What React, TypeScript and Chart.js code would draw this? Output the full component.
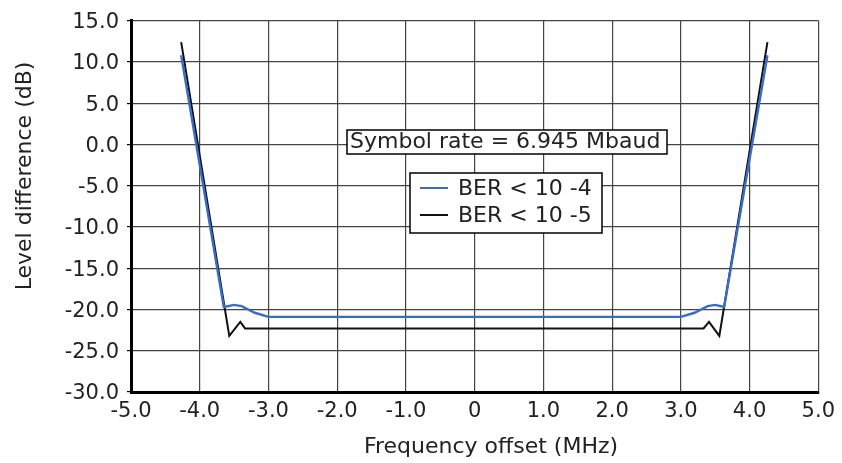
import React, { useEffect, useRef } from "react";
import { Chart, registerables } from "chart.js";

Chart.register(...registerables);

// Series data (frequency offset in MHz, level difference in dB)
const blueX = [-4.27, -3.65, -3.5, -3.39, -3.2, -3.0, 3.0, 3.2, 3.39, 3.5, 3.63, 4.26];
const blueY = [10.8, -19.7, -19.45, -19.6, -20.4, -20.9, -20.9, -20.4, -19.6, -19.45, -19.7, 10.8];
const blackX = [-4.27, -3.57, -3.41, -3.34, 3.33, 3.41, 3.56, 4.26];
const blackY = [12.4, -23.2, -21.5, -22.3, -22.3, -21.5, -23.2, 12.4];

const seriesLabels = ["BER < 10 -4", "BER < 10 -5"];
const seriesColors = ["#3a6cc4", "#111111"];

const xTickValues = [-5, -4, -3, -2, -1, 0, 1, 2, 3, 4, 5];
const xTickLabels = ["-5.0", "-4.0", "-3.0", "-2.0", "-1.0", "0", "1.0", "2.0", "3.0", "4.0", "5.0"];
const yTickValues = [-30, -25, -20, -15, -10, -5, 0, 5, 10, 15];
const yTickLabels = ["-30.0", "-25.0", "-20.0", "-15.0", "-10.0", "-5.0", "0.0", "5.0", "10.0", "15.0"];

const xTitle = "Frequency offset (MHz)";
const yTitle = "Level difference (dB)";
const annotationText = "Symbol rate = 6.945 Mbaud";

const FONT = "'DejaVu Sans', sans-serif";

const overlay = {
  id: "overlay",
  afterDraw(chart: any) {
    const ctx = chart.ctx as CanvasRenderingContext2D;
    ctx.save();
    ctx.fillStyle = "#222";
    ctx.font = `22px ${FONT}`;
    // Y title
    ctx.save();
    ctx.translate(25, 176);
    ctx.rotate(-Math.PI / 2);
    ctx.textAlign = "center";
    ctx.textBaseline = "middle";
    ctx.fillText(yTitle, 0, 0);
    ctx.restore();
    // X title
    ctx.textAlign = "center";
    ctx.textBaseline = "middle";
    ctx.fillText(xTitle, 491, 447);

    // Annotation box
    ctx.fillStyle = "#fff";
    ctx.fillRect(347, 130, 320, 24);
    ctx.strokeStyle = "#000";
    ctx.lineWidth = 1.5;
    ctx.strokeRect(347, 130, 320, 24);
    ctx.fillStyle = "#222";
    ctx.textAlign = "left";
    ctx.fillText(annotationText, 350, 142);

    // Legend box
    ctx.fillStyle = "#fff";
    ctx.fillRect(410, 173, 192, 60);
    ctx.strokeRect(410, 173, 192, 60);
    const ds = chart.data.datasets;
    ds.forEach((d: any, i: number) => {
      const y = 188 + i * 27;
      ctx.strokeStyle = d.borderColor;
      ctx.lineWidth = 2;
      ctx.beginPath();
      ctx.moveTo(420, y);
      ctx.lineTo(448, y);
      ctx.stroke();
      ctx.fillStyle = "#222";
      ctx.font = `22px ${FONT}`;
      ctx.fillText(d.label, 458, y + 1);
    });
    ctx.restore();
  },
};

export default function App() {
  const ref = useRef<HTMLCanvasElement>(null);
  useEffect(() => {
    if (!ref.current) return;
    const chart = new Chart(ref.current, {
      type: "scatter",
      data: {
        datasets: [
          {
            label: seriesLabels[0],
            data: blueX.map((x, i) => ({ x, y: blueY[i] })),
            borderColor: seriesColors[0],
            backgroundColor: seriesColors[0],
            showLine: true,
            pointRadius: 0,
            borderWidth: 2.4,
          },
          {
            label: seriesLabels[1],
            data: blackX.map((x, i) => ({ x, y: blackY[i] })),
            borderColor: seriesColors[1],
            backgroundColor: seriesColors[1],
            showLine: true,
            pointRadius: 0,
            borderWidth: 2,
          },
        ],
      },
      options: {
        animation: false,
        responsive: false,
        layout: { padding: { left: 0, right: 20, top: 16, bottom: 0 } },
        plugins: { legend: { display: false }, tooltip: { enabled: false } },
        scales: {
          x: {
            type: "linear",
            min: -5,
            max: 5,
            afterBuildTicks: (s: any) => {
              s.ticks = xTickValues.map((v) => ({ value: v }));
            },
            afterFit: (s: any) => {
              s.height = 71;
            },
            ticks: {
              callback: (v: any) => xTickLabels[xTickValues.indexOf(Number(v))] ?? "",
              font: { family: FONT, size: 21 },
              color: "#222",
              padding: 7,
              maxRotation: 0,
            },
            grid: { color: "#444", lineWidth: 1.2, drawTicks: false },
            border: { color: "#000", width: 3 },
          },
          y: {
            type: "linear",
            min: -30,
            max: 15,
            afterBuildTicks: (s: any) => {
              s.ticks = yTickValues.map((v) => ({ value: v }));
            },
            afterFit: (s: any) => {
              s.width = 131;
            },
            ticks: {
              callback: (v: any) => yTickLabels[yTickValues.indexOf(Number(v))] ?? "",
              font: { family: FONT, size: 21 },
              color: "#222",
              padding: 8,
              labelOffset: 2,
            },
            grid: { color: "#444", lineWidth: 1.2, drawTicks: true, tickLength: 4, tickColor: "#000" },
            border: { color: "#000", width: 3 },
          },
        },
      },
      plugins: [overlay],
    });
    return () => chart.destroy();
  }, []);
  return (
    <div style={{ position: "fixed", left: 0, top: 0, width: 842, height: 463, background: "#fff" }}>
      <canvas ref={ref} width={842} height={463} />
    </div>
  );
}
